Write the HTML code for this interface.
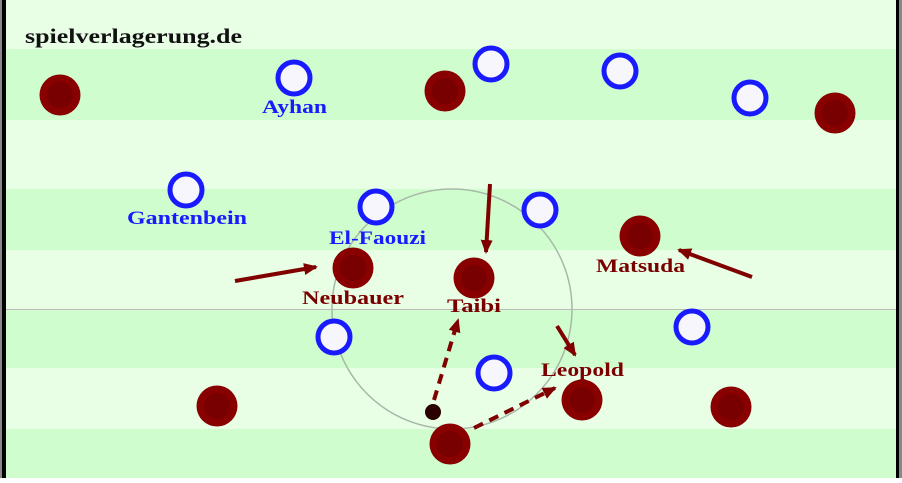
<!DOCTYPE html>
<html><head><meta charset="utf-8"><style>
html,body{margin:0;padding:0;}
body{width:902px;height:478px;overflow:hidden;}
</style></head><body>
<svg width="902" height="478" viewBox="0 0 902 478" xmlns="http://www.w3.org/2000/svg">
<defs>
<marker id="ah2" markerWidth="14" markerHeight="12" refX="12" refY="6" orient="auto" markerUnits="userSpaceOnUse"><path d="M0,0 L14,6 L0,12 z" fill="#800000"/></marker>
</defs>
<rect width="902" height="478" fill="#e8ffe6"/>
<rect y="49" width="902" height="71" fill="#d0fdcd"/>
<rect y="189" width="902" height="61" fill="#d0fdcd"/>
<rect y="309" width="902" height="59" fill="#d0fdcd"/>
<rect y="429" width="902" height="49" fill="#d0fdcd"/>
<line x1="0" y1="309.5" x2="902" y2="309.5" stroke="#bbb" stroke-width="1"/>
<circle cx="452" cy="309" r="120" fill="none" stroke="#a8b8a8" stroke-width="1.5"/>
<rect x="0" y="0" width="2" height="478" fill="#888"/>
<rect x="2" y="0" width="4" height="478" fill="#000"/>
<rect x="896" y="0" width="3" height="478" fill="#000"/>
<rect x="899" y="0" width="3" height="478" fill="#888"/>
<text x="25" y="43" font-family="Liberation Serif, serif" font-weight="bold" font-size="21" fill="#111" textLength="217" lengthAdjust="spacingAndGlyphs">spielverlagerung.de</text>
<g stroke="#800000" stroke-width="4" fill="none">
<line x1="235" y1="281" x2="316" y2="267" marker-end="url(#ah2)"/>
<line x1="490" y1="184" x2="486" y2="252" marker-end="url(#ah2)"/>
<line x1="752" y1="277" x2="679" y2="250" marker-end="url(#ah2)"/>
<line x1="557" y1="326" x2="575" y2="355" marker-end="url(#ah2)"/>
<line x1="434" y1="400" x2="458" y2="320" stroke-dasharray="10,7" marker-end="url(#ah2)"/>
<line x1="474" y1="428" x2="555" y2="388" stroke-dasharray="10,7" marker-end="url(#ah2)"/>
</g>
<g fill="#880000">
<circle cx="60" cy="95" r="20.5"/><circle cx="445" cy="91" r="20.5"/><circle cx="835" cy="113" r="20.5"/>
<circle cx="353" cy="268" r="20.5"/><circle cx="474" cy="278" r="20.5"/><circle cx="640" cy="236" r="20.5"/>
<circle cx="217" cy="406" r="20.5"/><circle cx="582" cy="400" r="20.5"/><circle cx="731" cy="407" r="20.5"/>
<circle cx="450" cy="444" r="20.5"/>
</g>
<g fill="#780000">
<circle cx="60" cy="95" r="13"/><circle cx="445" cy="91" r="13"/><circle cx="835" cy="113" r="13"/>
<circle cx="353" cy="268" r="13"/><circle cx="474" cy="278" r="13"/><circle cx="640" cy="236" r="13"/>
<circle cx="217" cy="406" r="13"/><circle cx="582" cy="400" r="13"/><circle cx="731" cy="407" r="13"/>
<circle cx="450" cy="444" r="13"/>
</g>
<circle cx="433" cy="412" r="8" fill="#2a0000"/>
<g fill="#f6f6fc" stroke="#1a1aff" stroke-width="5">
<circle cx="294" cy="78" r="16"/><circle cx="491" cy="64" r="16"/><circle cx="620" cy="71" r="16"/>
<circle cx="750" cy="98" r="16"/><circle cx="186" cy="190" r="16"/><circle cx="376" cy="207" r="16"/>
<circle cx="540" cy="210" r="16"/><circle cx="334" cy="337" r="16"/><circle cx="692" cy="327" r="16"/>
<circle cx="494" cy="373" r="16"/>
</g>
<g font-family="Liberation Serif, serif" font-weight="bold" font-size="19" lengthAdjust="spacingAndGlyphs">
<text x="262" y="113" fill="#1a1aff" textLength="65" lengthAdjust="spacingAndGlyphs">Ayhan</text>
<text x="127" y="224" fill="#1a1aff" textLength="120" lengthAdjust="spacingAndGlyphs">Gantenbein</text>
<text x="329" y="244" fill="#1a1aff" textLength="97" lengthAdjust="spacingAndGlyphs">El-Faouzi</text>
<text x="302" y="304" fill="#7a0000" textLength="102" lengthAdjust="spacingAndGlyphs">Neubauer</text>
<text x="447" y="312" fill="#7a0000" textLength="54" lengthAdjust="spacingAndGlyphs">Taibi</text>
<text x="596" y="272" fill="#7a0000" textLength="89" lengthAdjust="spacingAndGlyphs">Matsuda</text>
<text x="541" y="376" fill="#7a0000" textLength="83" lengthAdjust="spacingAndGlyphs">Leopold</text>
</g>
</svg>
</body></html>
